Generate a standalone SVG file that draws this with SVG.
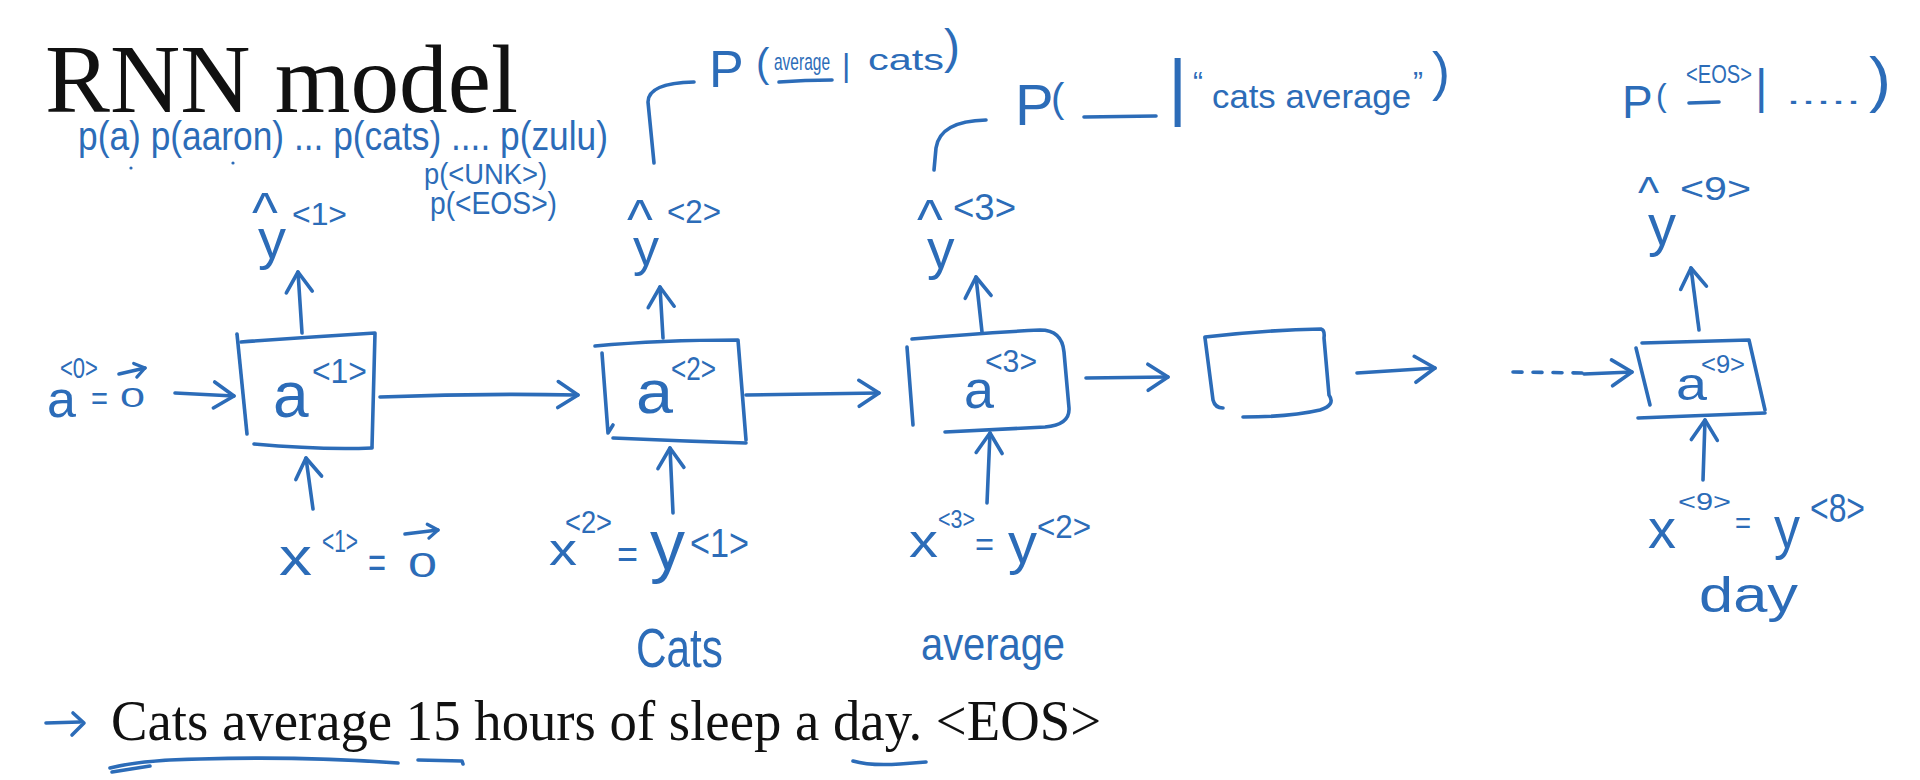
<svg xmlns="http://www.w3.org/2000/svg" width="1920" height="780" viewBox="0 0 1920 780">
<style>
.hw{font-family:"Liberation Sans",Arial,sans-serif;fill:#2c6cb8}
.ln{fill:none;stroke:#2c6cb8;stroke-width:3.6;stroke-linecap:round;stroke-linejoin:round}
.ser{font-family:"Liberation Serif","Times New Roman",serif;fill:#111}
</style>
<defs>
<marker id="ah" viewBox="-26 -16 30 32" refX="0" refY="0" markerWidth="30" markerHeight="32" markerUnits="userSpaceOnUse" orient="auto">
<path d="M-20,-13 L0,0 L-20,13" fill="none" stroke="#2c6cb8" stroke-width="3.6" stroke-linecap="round" stroke-linejoin="round"/>
</marker>
<marker id="ahs" viewBox="-14 -10 16 20" refX="0" refY="0" markerWidth="16" markerHeight="20" markerUnits="userSpaceOnUse" orient="auto">
<path d="M-10,-7 L0,0 L-10,7" fill="none" stroke="#2c6cb8" stroke-width="3.2" stroke-linecap="round" stroke-linejoin="round"/>
</marker>
</defs>
<rect width="1920" height="780" fill="#ffffff"/>

<g id="title">
<text class="ser" x="45" y="112" font-size="97" textLength="473" lengthAdjust="spacingAndGlyphs">RNN model</text>
</g>

<g id="vocab-probs">
<text class="hw" x="78" y="150" font-size="40" textLength="530" lengthAdjust="spacingAndGlyphs">p(a) p(aaron) ... p(cats) .... p(zulu)</text>
<text class="hw" x="424" y="184" font-size="30" textLength="123" lengthAdjust="spacingAndGlyphs">p(&lt;UNK&gt;)</text>
<text class="hw" x="430" y="214" font-size="32" textLength="127" lengthAdjust="spacingAndGlyphs">p(&lt;EOS&gt;)</text>
<circle cx="131" cy="168" r="1.6" fill="#2c6cb8"/>
<circle cx="233" cy="163" r="1.6" fill="#2c6cb8"/>
</g>

<g id="connectors">
<path class="ln" d="M175,393 L234,396" marker-end="url(#ah)"/>
<path class="ln" d="M380,397 Q480,393 578,395" marker-end="url(#ah)"/>
<path class="ln" d="M746,395 L879,393" marker-end="url(#ah)"/>
<path class="ln" d="M1086,378 L1168,377" marker-end="url(#ah)"/>
<path class="ln" d="M1357,373 L1435,368" marker-end="url(#ah)"/>
<path class="ln" d="M1513,372 L1584,373" stroke-dasharray="9 11"/>
<path class="ln" d="M1584,374 L1632,372" marker-end="url(#ah)"/>
<path class="ln" d="M302,333 L298,272" marker-end="url(#ah)"/>
<path class="ln" d="M663,338 L660,287" marker-end="url(#ah)"/>
<path class="ln" d="M982,332 L976,277" marker-end="url(#ah)"/>
<path class="ln" d="M1699,330 L1691,268" marker-end="url(#ah)"/>
<path class="ln" d="M313,509 L306,458" marker-end="url(#ah)"/>
<path class="ln" d="M673,513 L670,448" marker-end="url(#ah)"/>
<path class="ln" d="M987,503 L990,433" marker-end="url(#ah)"/>
<path class="ln" d="M1703,480 L1705,420" marker-end="url(#ah)"/>
<path class="ln" d="M654,163 L648,102 Q648,83 694,82"/>
<path class="ln" d="M934,170 L936,148 Q940,121 986,120"/>
</g>

<g id="a0">
<text class="hw" x="47" y="417" font-size="52">a</text>
<text class="hw" x="60" y="378" font-size="30" textLength="38" lengthAdjust="spacingAndGlyphs">&lt;0&gt;</text>
<text class="hw" x="91" y="410" font-size="34" textLength="17" lengthAdjust="spacingAndGlyphs">=</text>
<text class="hw" x="120" y="407" font-size="28" textLength="25" lengthAdjust="spacingAndGlyphs">0</text>
<path class="ln" d="M119,374 L145,368" stroke-width="3" marker-end="url(#ahs)"/>
</g>

<g id="box1">
<path class="ln" d="M237,334 L247,434"/>
<path class="ln" d="M241,342 Q310,337 375,333 L372,447"/>
<path class="ln" d="M254,444 Q320,450 372,448"/>
<text class="hw" x="273" y="417" font-size="64">a</text>
<text class="hw" x="312" y="383" font-size="35" textLength="55" lengthAdjust="spacingAndGlyphs">&lt;1&gt;</text>
</g>

<g id="yhat1">
<text class="hw" x="252" y="231" font-size="55">^</text>
<text class="hw" x="258" y="258" font-size="56">y</text>
<text class="hw" x="292" y="225" font-size="31" textLength="55" lengthAdjust="spacingAndGlyphs">&lt;1&gt;</text>
</g>

<g id="x1">
<text class="hw" x="279" y="575" font-size="54" textLength="33" lengthAdjust="spacingAndGlyphs">x</text>
<text class="hw" x="322" y="552" font-size="32" textLength="36" lengthAdjust="spacingAndGlyphs">&lt;1&gt;</text>
<text class="hw" x="368" y="578" font-size="44" textLength="18" lengthAdjust="spacingAndGlyphs">=</text>
<text class="hw" x="408" y="577" font-size="35" textLength="29" lengthAdjust="spacingAndGlyphs">0</text>
<path class="ln" d="M405,534 L438,530" stroke-width="3" marker-end="url(#ahs)"/>
</g>

<g id="box2">
<path class="ln" d="M602,353 L608,433 L613,425"/>
<path class="ln" d="M595,346 Q660,340 738,340 L746,440"/>
<path class="ln" d="M613,438 Q680,441 746,443"/>
<text class="hw" x="636" y="413" font-size="62" textLength="37" lengthAdjust="spacingAndGlyphs">a</text>
<text class="hw" x="671" y="380" font-size="34" textLength="45" lengthAdjust="spacingAndGlyphs">&lt;2&gt;</text>
</g>

<g id="yhat2">
<text class="hw" x="627" y="238" font-size="55">^</text>
<text class="hw" x="667" y="223" font-size="34" textLength="54" lengthAdjust="spacingAndGlyphs">&lt;2&gt;</text>
<text class="hw" x="633" y="265" font-size="52">y</text>
</g>

<g id="p-average-given-cats">
<text class="hw" x="709" y="87" font-size="52">P</text>
<text class="hw" x="756" y="77" font-size="40">(</text>
<text class="hw" x="774" y="70" font-size="24" textLength="56" lengthAdjust="spacingAndGlyphs">average</text>
<path class="ln" d="M779,82 Q805,80 832,80"/>
<text class="hw" x="842" y="76" font-size="32">|</text>
<text class="hw" x="868" y="70" font-size="30" textLength="76" lengthAdjust="spacingAndGlyphs">cats</text>
<text class="hw" x="944" y="63" font-size="48">)</text>
</g>

<g id="x2">
<text class="hw" x="549" y="565" font-size="45" textLength="28" lengthAdjust="spacingAndGlyphs">x</text>
<text class="hw" x="565" y="533" font-size="32" textLength="47" lengthAdjust="spacingAndGlyphs">&lt;2&gt;</text>
<text class="hw" x="617" y="568" font-size="40" textLength="21" lengthAdjust="spacingAndGlyphs">=</text>
<text class="hw" x="650" y="569" font-size="70" textLength="35" lengthAdjust="spacingAndGlyphs">y</text>
<text class="hw" x="690" y="557" font-size="40" textLength="59" lengthAdjust="spacingAndGlyphs">&lt;1&gt;</text>
<text class="hw" x="636" y="667" font-size="55" textLength="87" lengthAdjust="spacingAndGlyphs">Cats</text>
</g>

<g id="box3">
<path class="ln" d="M907,347 L913,425"/>
<path class="ln" d="M912,339 Q980,333 1040,330 Q1062,330 1064,352 L1069,408 Q1070,425 1045,427 L945,432"/>
<text class="hw" x="964" y="408" font-size="54" textLength="30" lengthAdjust="spacingAndGlyphs">a</text>
<text class="hw" x="985" y="372" font-size="31" textLength="52" lengthAdjust="spacingAndGlyphs">&lt;3&gt;</text>
</g>

<g id="yhat3">
<text class="hw" x="917" y="238" font-size="55">^</text>
<text class="hw" x="953" y="220" font-size="36" textLength="63" lengthAdjust="spacingAndGlyphs">&lt;3&gt;</text>
<text class="hw" x="927" y="268" font-size="55">y</text>
</g>

<g id="p-blank-given-cats-average">
<text class="hw" x="1015" y="125" font-size="58">P</text>
<text class="hw" x="1051" y="112" font-size="40">(</text>
<path class="ln" d="M1084,117 L1156,116"/>
<text class="hw" x="1168" y="112" font-size="74">|</text>
<text class="hw" x="1193" y="92" font-size="30">“</text>
<text class="hw" x="1212" y="108" font-size="34" textLength="199" lengthAdjust="spacingAndGlyphs">cats average</text>
<text class="hw" x="1413" y="92" font-size="30">”</text>
<text class="hw" x="1432" y="90" font-size="54">)</text>
</g>

<g id="x3">
<text class="hw" x="909" y="557" font-size="46" textLength="29" lengthAdjust="spacingAndGlyphs">x</text>
<text class="hw" x="938" y="528" font-size="26" textLength="37" lengthAdjust="spacingAndGlyphs">&lt;3&gt;</text>
<text class="hw" x="975" y="556" font-size="34" textLength="19" lengthAdjust="spacingAndGlyphs">=</text>
<text class="hw" x="1008" y="563" font-size="58" textLength="29" lengthAdjust="spacingAndGlyphs">y</text>
<text class="hw" x="1037" y="538" font-size="34" textLength="54" lengthAdjust="spacingAndGlyphs">&lt;2&gt;</text>
<text class="hw" x="921" y="660" font-size="46" textLength="144" lengthAdjust="spacingAndGlyphs">average</text>
</g>

<g id="box4">
<path class="ln" d="M1205,338 L1213,400 Q1215,408 1223,408"/>
<path class="ln" d="M1205,337 Q1265,330 1321,329 Q1325,330 1324,338 L1329,395 Q1336,405 1320,410 Q1290,417 1243,417"/>
</g>

<g id="box9">
<path class="ln" d="M1636,348 L1650,405"/>
<path class="ln" d="M1642,343 L1749,340 L1765,410"/>
<path class="ln" d="M1638,418 L1765,413"/>
<text class="hw" x="1676" y="400" font-size="46" textLength="31" lengthAdjust="spacingAndGlyphs">a</text>
<text class="hw" x="1701" y="373" font-size="26" textLength="44" lengthAdjust="spacingAndGlyphs">&lt;9&gt;</text>
</g>

<g id="yhat9">
<text class="hw" x="1638" y="208" font-size="45">^</text>
<text class="hw" x="1680" y="200" font-size="34" textLength="71" lengthAdjust="spacingAndGlyphs">&lt;9&gt;</text>
<text class="hw" x="1648" y="245" font-size="58" textLength="28" lengthAdjust="spacingAndGlyphs">y</text>
</g>

<g id="p-eos">
<text class="hw" x="1622" y="118" font-size="46">P</text>
<text class="hw" x="1656" y="106" font-size="32">(</text>
<text class="hw" x="1686" y="83" font-size="25" textLength="66" lengthAdjust="spacingAndGlyphs">&lt;EOS&gt;</text>
<path class="ln" d="M1689,103 L1719,102"/>
<text class="hw" x="1755" y="103" font-size="48">|</text>
<text class="hw" x="1786" y="104" font-size="30" textLength="75" lengthAdjust="spacingAndGlyphs">.....</text>
<text class="hw" x="1869" y="100" font-size="62" textLength="22" lengthAdjust="spacingAndGlyphs">)</text>
</g>

<g id="x9">
<text class="hw" x="1648" y="548" font-size="56" textLength="28" lengthAdjust="spacingAndGlyphs">x</text>
<text class="hw" x="1678" y="510" font-size="24" textLength="53" lengthAdjust="spacingAndGlyphs">&lt;9&gt;</text>
<text class="hw" x="1735" y="533" font-size="30" textLength="16" lengthAdjust="spacingAndGlyphs">=</text>
<text class="hw" x="1774" y="548" font-size="60" textLength="26" lengthAdjust="spacingAndGlyphs">y</text>
<text class="hw" x="1810" y="522" font-size="40" textLength="55" lengthAdjust="spacingAndGlyphs">&lt;8&gt;</text>
<text class="hw" x="1699" y="612" font-size="50" textLength="99" lengthAdjust="spacingAndGlyphs">day</text>
</g>

<g id="sentence">
<path class="ln" d="M46,723 L80,722"/>
<path class="ln" d="M73,713 L84,723 L72,735"/>
<text class="ser" x="111" y="740" font-size="58" textLength="990" lengthAdjust="spacingAndGlyphs">Cats average 15 hours of sleep a day. &lt;EOS&gt;</text>
<path class="ln" d="M110,768 Q140,760 200,759 Q300,756 398,763"/>
<path class="ln" d="M112,772 L150,766"/>
<path class="ln" d="M418,760 L462,761 L463,764"/>
<path class="ln" d="M853,761 Q870,766 900,764 L926,762"/>
</g>
</svg>
